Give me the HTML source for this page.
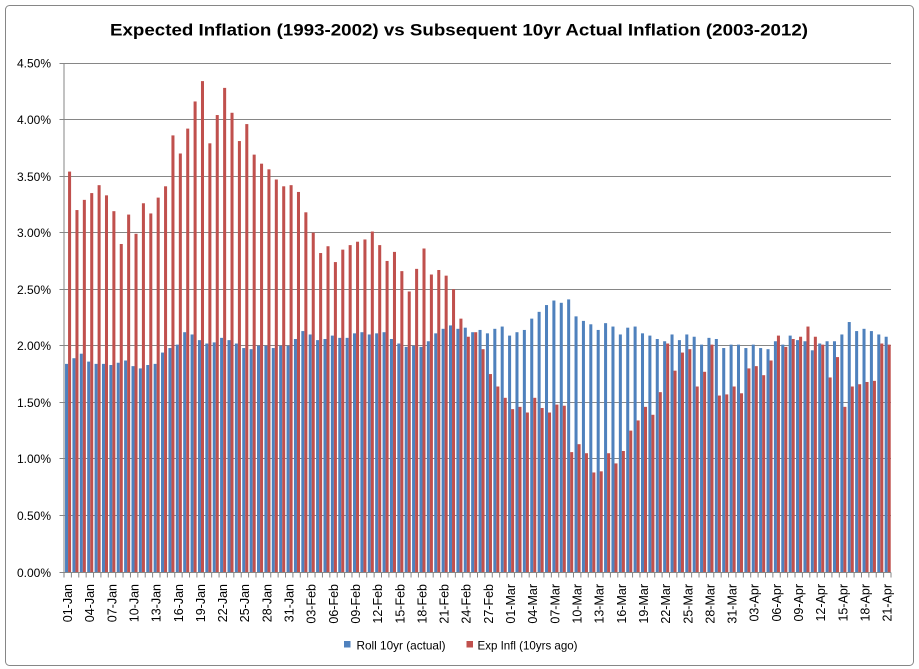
<!DOCTYPE html>
<html><head><meta charset="utf-8"><style>
html,body{margin:0;padding:0;background:#fff;}
svg{display:block;}
text{font-family:"Liberation Sans",sans-serif;fill:#000;}
</style></head><body>
<svg width="919" height="669" viewBox="0 0 919 669" xmlns="http://www.w3.org/2000/svg">
<rect x="0" y="0" width="919" height="669" fill="#fff"/>
<rect x="5.5" y="5.5" width="908" height="660" rx="4" fill="#fff" stroke="#868686" stroke-width="1"/>
<text x="110" y="35.5" font-size="17" font-weight="bold" textLength="698" lengthAdjust="spacingAndGlyphs">Expected Inflation (1993-2002) vs Subsequent 10yr Actual Inflation (2003-2012)</text>
<g stroke="#868686" stroke-width="1">
<path d="M64 515.5H891M64 458.5H891M64 402.5H891M64 345.5H891M64 289.5H891M64 232.5H891M64 176.5H891M64 119.5H891M64 63.5H891"/>
<path d="M59.5 572.5H64M59.5 515.5H64M59.5 458.5H64M59.5 402.5H64M59.5 345.5H64M59.5 289.5H64M59.5 232.5H64M59.5 176.5H64M59.5 119.5H64M59.5 63.5H64"/>
</g>
<g transform="translate(64,572) scale(7.384,-113.11)">
<g fill="#4F81BD">
<rect x="0.14" width=".41" height="1.84"/><rect x="1.14" width=".41" height="1.89"/><rect x="2.14" width=".41" height="1.93"/><rect x="3.14" width=".41" height="1.86"/><rect x="4.14" width=".41" height="1.84"/><rect x="5.14" width=".41" height="1.84"/><rect x="6.14" width=".41" height="1.83"/><rect x="7.14" width=".41" height="1.85"/><rect x="8.14" width=".41" height="1.87"/><rect x="9.14" width=".41" height="1.82"/>
<rect x="10.14" width=".41" height="1.80"/><rect x="11.14" width=".41" height="1.83"/><rect x="12.14" width=".41" height="1.84"/><rect x="13.14" width=".41" height="1.94"/><rect x="14.14" width=".41" height="1.98"/><rect x="15.14" width=".41" height="2.01"/><rect x="16.14" width=".41" height="2.12"/><rect x="17.14" width=".41" height="2.10"/><rect x="18.14" width=".41" height="2.05"/><rect x="19.14" width=".41" height="2.02"/>
<rect x="20.14" width=".41" height="2.03"/><rect x="21.14" width=".41" height="2.07"/><rect x="22.14" width=".41" height="2.05"/><rect x="23.14" width=".41" height="2.02"/><rect x="24.14" width=".41" height="1.98"/><rect x="25.14" width=".41" height="1.97"/><rect x="26.14" width=".41" height="2.00"/><rect x="27.14" width=".41" height="2.00"/><rect x="28.14" width=".41" height="1.98"/><rect x="29.14" width=".41" height="2.00"/>
<rect x="30.14" width=".41" height="2.00"/><rect x="31.14" width=".41" height="2.06"/><rect x="32.14" width=".41" height="2.13"/><rect x="33.14" width=".41" height="2.10"/><rect x="34.14" width=".41" height="2.05"/><rect x="35.14" width=".41" height="2.06"/><rect x="36.14" width=".41" height="2.09"/><rect x="37.14" width=".41" height="2.07"/><rect x="38.14" width=".41" height="2.07"/><rect x="39.14" width=".41" height="2.11"/>
<rect x="40.14" width=".41" height="2.12"/><rect x="41.14" width=".41" height="2.10"/><rect x="42.14" width=".41" height="2.11"/><rect x="43.14" width=".41" height="2.12"/><rect x="44.14" width=".41" height="2.06"/><rect x="45.14" width=".41" height="2.02"/><rect x="46.14" width=".41" height="1.99"/><rect x="47.14" width=".41" height="2.00"/><rect x="48.14" width=".41" height="1.99"/><rect x="49.14" width=".41" height="2.04"/>
<rect x="50.14" width=".41" height="2.11"/><rect x="51.14" width=".41" height="2.15"/><rect x="52.14" width=".41" height="2.18"/><rect x="53.14" width=".41" height="2.15"/><rect x="54.14" width=".41" height="2.16"/><rect x="55.14" width=".41" height="2.12"/><rect x="56.14" width=".41" height="2.14"/><rect x="57.14" width=".41" height="2.11"/><rect x="58.14" width=".41" height="2.15"/><rect x="59.14" width=".41" height="2.17"/>
<rect x="60.14" width=".41" height="2.09"/><rect x="61.14" width=".41" height="2.12"/><rect x="62.14" width=".41" height="2.14"/><rect x="63.14" width=".41" height="2.24"/><rect x="64.14" width=".41" height="2.30"/><rect x="65.14" width=".41" height="2.36"/><rect x="66.14" width=".41" height="2.40"/><rect x="67.14" width=".41" height="2.38"/><rect x="68.14" width=".41" height="2.41"/><rect x="69.14" width=".41" height="2.26"/>
<rect x="70.14" width=".41" height="2.22"/><rect x="71.14" width=".41" height="2.19"/><rect x="72.14" width=".41" height="2.14"/><rect x="73.14" width=".41" height="2.20"/><rect x="74.14" width=".41" height="2.17"/><rect x="75.14" width=".41" height="2.10"/><rect x="76.14" width=".41" height="2.16"/><rect x="77.14" width=".41" height="2.17"/><rect x="78.14" width=".41" height="2.11"/><rect x="79.14" width=".41" height="2.09"/>
<rect x="80.14" width=".41" height="2.06"/><rect x="81.14" width=".41" height="2.04"/><rect x="82.14" width=".41" height="2.10"/><rect x="83.14" width=".41" height="2.05"/><rect x="84.14" width=".41" height="2.10"/><rect x="85.14" width=".41" height="2.08"/><rect x="86.14" width=".41" height="2.01"/><rect x="87.14" width=".41" height="2.07"/><rect x="88.14" width=".41" height="2.06"/><rect x="89.14" width=".41" height="1.98"/>
<rect x="90.14" width=".41" height="2.01"/><rect x="91.14" width=".41" height="2.01"/><rect x="92.14" width=".41" height="1.98"/><rect x="93.14" width=".41" height="2.01"/><rect x="94.14" width=".41" height="1.98"/><rect x="95.14" width=".41" height="1.97"/><rect x="96.14" width=".41" height="2.04"/><rect x="97.14" width=".41" height="2.01"/><rect x="98.14" width=".41" height="2.09"/><rect x="99.14" width=".41" height="2.05"/>
<rect x="100.14" width=".41" height="2.04"/><rect x="101.14" width=".41" height="1.96"/><rect x="102.14" width=".41" height="2.02"/><rect x="103.14" width=".41" height="2.04"/><rect x="104.14" width=".41" height="2.04"/><rect x="105.14" width=".41" height="2.10"/><rect x="106.14" width=".41" height="2.21"/><rect x="107.14" width=".41" height="2.13"/><rect x="108.14" width=".41" height="2.15"/><rect x="109.14" width=".41" height="2.13"/>
<rect x="110.14" width=".41" height="2.10"/><rect x="111.14" width=".41" height="2.08"/>
</g>
<g fill="#C0504D">
<rect x="0.55" width=".41" height="3.54"/><rect x="1.55" width=".41" height="3.20"/><rect x="2.55" width=".41" height="3.29"/><rect x="3.55" width=".41" height="3.35"/><rect x="4.55" width=".41" height="3.42"/><rect x="5.55" width=".41" height="3.33"/><rect x="6.55" width=".41" height="3.19"/><rect x="7.55" width=".41" height="2.90"/><rect x="8.55" width=".41" height="3.16"/><rect x="9.55" width=".41" height="2.99"/>
<rect x="10.55" width=".41" height="3.26"/><rect x="11.55" width=".41" height="3.17"/><rect x="12.55" width=".41" height="3.31"/><rect x="13.55" width=".41" height="3.41"/><rect x="14.55" width=".41" height="3.86"/><rect x="15.55" width=".41" height="3.70"/><rect x="16.55" width=".41" height="3.92"/><rect x="17.55" width=".41" height="4.16"/><rect x="18.55" width=".41" height="4.34"/><rect x="19.55" width=".41" height="3.79"/>
<rect x="20.55" width=".41" height="4.04"/><rect x="21.55" width=".41" height="4.28"/><rect x="22.55" width=".41" height="4.06"/><rect x="23.55" width=".41" height="3.81"/><rect x="24.55" width=".41" height="3.96"/><rect x="25.55" width=".41" height="3.69"/><rect x="26.55" width=".41" height="3.61"/><rect x="27.55" width=".41" height="3.56"/><rect x="28.55" width=".41" height="3.47"/><rect x="29.55" width=".41" height="3.41"/>
<rect x="30.55" width=".41" height="3.42"/><rect x="31.55" width=".41" height="3.36"/><rect x="32.55" width=".41" height="3.18"/><rect x="33.55" width=".41" height="3.00"/><rect x="34.55" width=".41" height="2.82"/><rect x="35.55" width=".41" height="2.88"/><rect x="36.55" width=".41" height="2.74"/><rect x="37.55" width=".41" height="2.85"/><rect x="38.55" width=".41" height="2.89"/><rect x="39.55" width=".41" height="2.92"/>
<rect x="40.55" width=".41" height="2.94"/><rect x="41.55" width=".41" height="3.01"/><rect x="42.55" width=".41" height="2.89"/><rect x="43.55" width=".41" height="2.75"/><rect x="44.55" width=".41" height="2.83"/><rect x="45.55" width=".41" height="2.66"/><rect x="46.55" width=".41" height="2.48"/><rect x="47.55" width=".41" height="2.68"/><rect x="48.55" width=".41" height="2.86"/><rect x="49.55" width=".41" height="2.63"/>
<rect x="50.55" width=".41" height="2.67"/><rect x="51.55" width=".41" height="2.62"/><rect x="52.55" width=".41" height="2.50"/><rect x="53.55" width=".41" height="2.24"/><rect x="54.55" width=".41" height="2.08"/><rect x="55.55" width=".41" height="2.12"/><rect x="56.55" width=".41" height="1.97"/><rect x="57.55" width=".41" height="1.75"/><rect x="58.55" width=".41" height="1.64"/><rect x="59.55" width=".41" height="1.54"/>
<rect x="60.55" width=".41" height="1.44"/><rect x="61.55" width=".41" height="1.46"/><rect x="62.55" width=".41" height="1.41"/><rect x="63.55" width=".41" height="1.54"/><rect x="64.55" width=".41" height="1.45"/><rect x="65.55" width=".41" height="1.41"/><rect x="66.55" width=".41" height="1.48"/><rect x="67.55" width=".41" height="1.47"/><rect x="68.55" width=".41" height="1.06"/><rect x="69.55" width=".41" height="1.13"/>
<rect x="70.55" width=".41" height="1.05"/><rect x="71.55" width=".41" height="0.88"/><rect x="72.55" width=".41" height="0.89"/><rect x="73.55" width=".41" height="1.05"/><rect x="74.55" width=".41" height="0.96"/><rect x="75.55" width=".41" height="1.07"/><rect x="76.55" width=".41" height="1.25"/><rect x="77.55" width=".41" height="1.34"/><rect x="78.55" width=".41" height="1.46"/><rect x="79.55" width=".41" height="1.39"/>
<rect x="80.55" width=".41" height="1.59"/><rect x="81.55" width=".41" height="2.02"/><rect x="82.55" width=".41" height="1.78"/><rect x="83.55" width=".41" height="1.94"/><rect x="84.55" width=".41" height="1.97"/><rect x="85.55" width=".41" height="1.64"/><rect x="86.55" width=".41" height="1.77"/><rect x="87.55" width=".41" height="2.01"/><rect x="88.55" width=".41" height="1.56"/><rect x="89.55" width=".41" height="1.57"/>
<rect x="90.55" width=".41" height="1.64"/><rect x="91.55" width=".41" height="1.58"/><rect x="92.55" width=".41" height="1.80"/><rect x="93.55" width=".41" height="1.82"/><rect x="94.55" width=".41" height="1.74"/><rect x="95.55" width=".41" height="1.87"/><rect x="96.55" width=".41" height="2.09"/><rect x="97.55" width=".41" height="1.99"/><rect x="98.55" width=".41" height="2.06"/><rect x="99.55" width=".41" height="2.08"/>
<rect x="100.55" width=".41" height="2.17"/><rect x="101.55" width=".41" height="2.08"/><rect x="102.55" width=".41" height="2.01"/><rect x="103.55" width=".41" height="1.72"/><rect x="104.55" width=".41" height="1.90"/><rect x="105.55" width=".41" height="1.46"/><rect x="106.55" width=".41" height="1.64"/><rect x="107.55" width=".41" height="1.66"/><rect x="108.55" width=".41" height="1.68"/><rect x="109.55" width=".41" height="1.69"/>
<rect x="110.55" width=".41" height="2.02"/><rect x="111.55" width=".41" height="2.01"/>
</g>
</g>
<g stroke="#868686" stroke-width="1" fill="none">
<path d="M64 63V572.5H891"/>
</g>
<g transform="translate(64,572.5) scale(7.384,1)">
<path stroke="#868686" stroke-width="1" vector-effect="non-scaling-stroke" fill="none" d="M0 0v5M1 0v5M2 0v5M3 0v5M4 0v5M5 0v5M6 0v5M7 0v5M8 0v5M9 0v5M10 0v5M11 0v5M12 0v5M13 0v5M14 0v5M15 0v5M16 0v5M17 0v5M18 0v5M19 0v5M20 0v5M21 0v5M22 0v5M23 0v5M24 0v5M25 0v5M26 0v5M27 0v5M28 0v5M29 0v5M30 0v5M31 0v5M32 0v5M33 0v5M34 0v5M35 0v5M36 0v5M37 0v5M38 0v5M39 0v5M40 0v5M41 0v5M42 0v5M43 0v5M44 0v5M45 0v5M46 0v5M47 0v5M48 0v5M49 0v5M50 0v5M51 0v5M52 0v5M53 0v5M54 0v5M55 0v5M56 0v5M57 0v5M58 0v5M59 0v5M60 0v5M61 0v5M62 0v5M63 0v5M64 0v5M65 0v5M66 0v5M67 0v5M68 0v5M69 0v5M70 0v5M71 0v5M72 0v5M73 0v5M74 0v5M75 0v5M76 0v5M77 0v5M78 0v5M79 0v5M80 0v5M81 0v5M82 0v5M83 0v5M84 0v5M85 0v5M86 0v5M87 0v5M88 0v5M89 0v5M90 0v5M91 0v5M92 0v5M93 0v5M94 0v5M95 0v5M96 0v5M97 0v5M98 0v5M99 0v5M100 0v5M101 0v5M102 0v5M103 0v5M104 0v5M105 0v5M106 0v5M107 0v5M108 0v5M109 0v5M110 0v5M111 0v5M112 0v5"/>
</g>
<g font-size="12" text-anchor="end">
<text x="51" y="577">0.00%</text>
<text x="51" y="520">0.50%</text>
<text x="51" y="463">1.00%</text>
<text x="51" y="407">1.50%</text>
<text x="51" y="350">2.00%</text>
<text x="51" y="294">2.50%</text>
<text x="51" y="237">3.00%</text>
<text x="51" y="181">3.50%</text>
<text x="51" y="124">4.00%</text>
<text x="51" y="67.5">4.50%</text>
</g>
<g font-size="12.5" text-anchor="end">
<text transform="translate(72.0,584) rotate(-90)">01-Jan</text>
<text transform="translate(94.15,584) rotate(-90)">04-Jan</text>
<text transform="translate(116.3,584) rotate(-90)">07-Jan</text>
<text transform="translate(138.46,584) rotate(-90)">10-Jan</text>
<text transform="translate(160.61,584) rotate(-90)">13-Jan</text>
<text transform="translate(182.76,584) rotate(-90)">16-Jan</text>
<text transform="translate(204.91,584) rotate(-90)">19-Jan</text>
<text transform="translate(227.06,584) rotate(-90)">22-Jan</text>
<text transform="translate(249.22,584) rotate(-90)">25-Jan</text>
<text transform="translate(271.37,584) rotate(-90)">28-Jan</text>
<text transform="translate(293.52,584) rotate(-90)">31-Jan</text>
<text transform="translate(315.67,584) rotate(-90)">03-Feb</text>
<text transform="translate(337.82,584) rotate(-90)">06-Feb</text>
<text transform="translate(359.98,584) rotate(-90)">09-Feb</text>
<text transform="translate(382.13,584) rotate(-90)">12-Feb</text>
<text transform="translate(404.28,584) rotate(-90)">15-Feb</text>
<text transform="translate(426.43,584) rotate(-90)">18-Feb</text>
<text transform="translate(448.58,584) rotate(-90)">21-Feb</text>
<text transform="translate(470.74,584) rotate(-90)">24-Feb</text>
<text transform="translate(492.89,584) rotate(-90)">27-Feb</text>
<text transform="translate(515.04,584) rotate(-90)">01-Mar</text>
<text transform="translate(537.19,584) rotate(-90)">04-Mar</text>
<text transform="translate(559.34,584) rotate(-90)">07-Mar</text>
<text transform="translate(581.5,584) rotate(-90)">10-Mar</text>
<text transform="translate(603.65,584) rotate(-90)">13-Mar</text>
<text transform="translate(625.8,584) rotate(-90)">16-Mar</text>
<text transform="translate(647.95,584) rotate(-90)">19-Mar</text>
<text transform="translate(670.1,584) rotate(-90)">22-Mar</text>
<text transform="translate(692.26,584) rotate(-90)">25-Mar</text>
<text transform="translate(714.41,584) rotate(-90)">28-Mar</text>
<text transform="translate(736.56,584) rotate(-90)">31-Mar</text>
<text transform="translate(758.71,584) rotate(-90)">03-Apr</text>
<text transform="translate(780.86,584) rotate(-90)">06-Apr</text>
<text transform="translate(803.02,584) rotate(-90)">09-Apr</text>
<text transform="translate(825.17,584) rotate(-90)">12-Apr</text>
<text transform="translate(847.32,584) rotate(-90)">15-Apr</text>
<text transform="translate(869.47,584) rotate(-90)">18-Apr</text>
<text transform="translate(891.62,584) rotate(-90)">21-Apr</text>
</g>
<rect x="344" y="641" width="6.5" height="6.5" fill="#4F81BD"/>
<text x="356.5" y="649.5" font-size="12" textLength="89" lengthAdjust="spacingAndGlyphs">Roll 10yr (actual)</text>
<rect x="466.5" y="641" width="6.5" height="6.5" fill="#C0504D"/>
<text x="477.5" y="649.5" font-size="12" textLength="100" lengthAdjust="spacingAndGlyphs">Exp Infl (10yrs ago)</text>
</svg>
</body></html>
